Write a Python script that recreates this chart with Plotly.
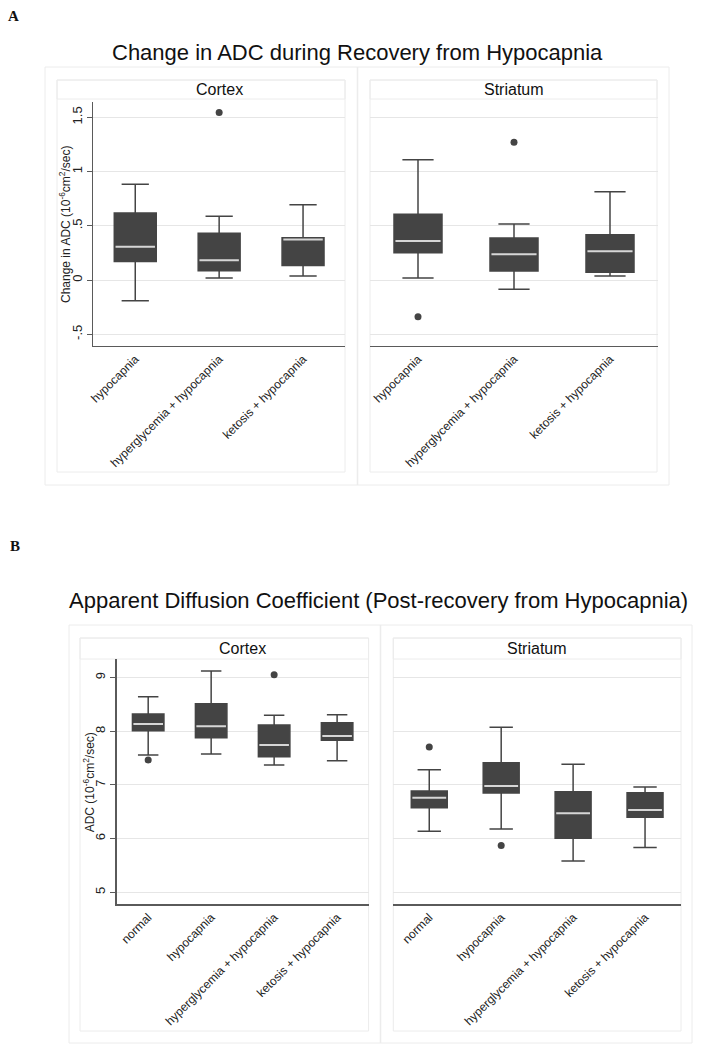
import plotly.graph_objects as go

W, H = 707, 1050

# ---------------- data ----------------
cats_a = ["hypocapnia", "hyperglycemia + hypocapnia", "ketosis + hypocapnia"]
cats_b = ["normal", "hypocapnia", "hyperglycemia + hypocapnia", "ketosis + hypocapnia"]

# Panel A - Cortex (change in ADC)
a_ctx_upper = [0.883, 0.588, 0.695]
a_ctx_q3 = [0.618, 0.431, 0.390]
a_ctx_median = [0.308, 0.182, 0.374]
a_ctx_q1 = [0.172, 0.086, 0.135]
a_ctx_lower = [-0.191, 0.018, 0.037]
a_ctx_out_cats = ["hyperglycemia + hypocapnia"]
a_ctx_out_vals = [1.545]

# Panel A - Striatum
a_str_upper = [1.108, 0.517, 0.815]
a_str_q3 = [0.606, 0.388, 0.418]
a_str_median = [0.360, 0.237, 0.265]
a_str_q1 = [0.252, 0.083, 0.071]
a_str_lower = [0.018, -0.086, 0.037]
a_str_out_cats = ["hypocapnia", "hyperglycemia + hypocapnia"]
a_str_out_vals = [-0.338, 1.271]

# Panel B - Cortex (ADC)
b_ctx_upper = [8.646, 9.124, 8.298, 8.311]
b_ctx_q3 = [8.323, 8.516, 8.118, 8.161]
b_ctx_median = [8.137, 8.093, 7.745, 7.913]
b_ctx_q1 = [8.012, 7.882, 7.528, 7.832]
b_ctx_lower = [7.559, 7.578, 7.373, 7.453]
b_ctx_out_cats = ["normal", "hyperglycemia + hypocapnia"]
b_ctx_out_vals = [7.466, 9.056]

# Panel B - Striatum
b_str_upper = [7.286, 8.075, 7.385, 6.963]
b_str_q3 = [6.888, 7.416, 6.876, 6.857]
b_str_median = [6.764, 6.981, 6.472, 6.534]
b_str_q1 = [6.578, 6.851, 6.006, 6.398]
b_str_lower = [6.137, 6.180, 5.584, 5.833]
b_str_out_cats = ["normal", "hypocapnia"]
b_str_out_vals = [7.708, 5.870]

a_tickvals = [-0.5, 0, 0.5, 1, 1.5]
a_ticktext = ["-.5", "0", ".5", "1", "1.5"]
b_tickvals = [5, 6, 7, 8, 9]
b_ticktext = ["5", "6", "7", "8", "9"]

title_a = "Change in ADC during Recovery from Hypocapnia"
title_b = "Apparent Diffusion Coefficient (Post-recovery from Hypocapnia)"
ytitle_a = "Change in ADC (10<sup>-6</sup>cm<sup>2</sup>/sec)"
ytitle_b = "ADC (10<sup>-6</sup>cm<sup>2</sup>/sec)"

# ---------------- style ----------------
FONT = "Liberation Sans, Arial, sans-serif"
DARK = "#444444"
LIGHT = "#d6d6d6"
GRID = "#e6e6e6"
AXIS = "#5a5a5a"
FRAME = "#ececec"


def px(x):
    return x / W


def py(y):
    return 1 - y / H


fig = go.Figure()


def add_panel(xa, ya, cats, q1, med, q3, lo, up, out_c, out_v):
    fig.add_trace(go.Box(
        x=cats, q1=q1, median=med, q3=q3, lowerfence=lo, upperfence=up,
        fillcolor=DARK, line=dict(color=DARK, width=1.5), width=0.5,
        whiskerwidth=0.65, boxpoints=False, xaxis=xa, yaxis=ya,
        showlegend=False, hoverinfo="skip"))
    # median line in light colour
    fig.add_trace(go.Box(
        x=cats, q1=med, median=med, q3=med, lowerfence=med, upperfence=med,
        fillcolor="rgba(0,0,0,0)", line=dict(color=LIGHT, width=2), width=0.47,
        whiskerwidth=0, boxpoints=False, xaxis=xa, yaxis=ya,
        showlegend=False, hoverinfo="skip"))
    fig.add_trace(go.Scatter(
        x=out_c, y=out_v, mode="markers",
        marker=dict(color=DARK, size=7), xaxis=xa, yaxis=ya,
        showlegend=False, hoverinfo="skip"))


add_panel("x", "y", cats_a, a_ctx_q1, a_ctx_median, a_ctx_q3, a_ctx_lower, a_ctx_upper,
          a_ctx_out_cats, a_ctx_out_vals)
add_panel("x2", "y2", cats_a, a_str_q1, a_str_median, a_str_q3, a_str_lower, a_str_upper,
          a_str_out_cats, a_str_out_vals)
add_panel("x3", "y3", cats_b, b_ctx_q1, b_ctx_median, b_ctx_q3, b_ctx_lower, b_ctx_upper,
          b_ctx_out_cats, b_ctx_out_vals)
add_panel("x4", "y4", cats_b, b_str_q1, b_str_median, b_str_q3, b_str_lower, b_str_upper,
          b_str_out_cats, b_str_out_vals)

xtickfont = dict(family=FONT, size=12, color="#222222")
ytickfont = dict(family=FONT, size=13, color="#222222")


def xaxis(dom, cats, anchor):
    return dict(domain=dom, anchor=anchor, type="category", categoryorder="array",
                categoryarray=cats, range=[-0.5, len(cats) - 0.5],
                showline=True, linecolor=AXIS, linewidth=1.3, ticks="",
                tickangle=-45, tickfont=xtickfont, showgrid=False, zeroline=False,
                fixedrange=True, automargin=False)


def yaxis(dom, rng, tv, tt, anchor, show):
    d = dict(domain=dom, anchor=anchor, range=rng, tickvals=tv, ticktext=tt,
             showgrid=True, gridcolor=GRID, gridwidth=1, zeroline=False,
             fixedrange=True, automargin=False)
    if show:
        d.update(showline=True, linecolor=AXIS, linewidth=1.3, ticks="outside",
                 ticklen=5, tickcolor=AXIS, tickangle=-90, tickfont=ytickfont,
                 showticklabels=True)
    else:
        d.update(showline=False, ticks="", showticklabels=False)
    return d


ya_dom = [py(346), py(101.7)]
yb_dom = [py(904.3), py(659.3)]
a_rng = [-0.608, 1.644]
b_rng = [4.776, 9.343]

fig.update_layout(
    width=W, height=H, margin=dict(l=0, r=0, t=0, b=0, pad=0, autoexpand=False),
    paper_bgcolor="white", plot_bgcolor="white", boxmode="overlay",
    showlegend=False,
    xaxis=xaxis([px(93.3), px(345)], cats_a, "y"),
    yaxis=yaxis(ya_dom, a_rng, a_tickvals, a_ticktext, "x", True),
    xaxis2=xaxis([px(370), px(658)], cats_a, "y2"),
    yaxis2=yaxis(ya_dom, a_rng, a_tickvals, a_ticktext, "x2", False),
    xaxis3=xaxis([px(116.7), px(368.6)], cats_b, "y3"),
    yaxis3=yaxis(yb_dom, b_rng, b_tickvals, b_ticktext, "x3", True),
    xaxis4=xaxis([px(393.3), px(681)], cats_b, "y4"),
    yaxis4=yaxis(yb_dom, b_rng, b_tickvals, b_ticktext, "x4", False),
)


# frames
def rect(x0, y0, x1, y1, color=FRAME):
    fig.add_shape(type="rect", xref="paper", yref="paper",
                  x0=px(x0), x1=px(x1), y0=py(y1), y1=py(y0),
                  line=dict(color=color, width=1), fillcolor="rgba(0,0,0,0)",
                  layer="below")


def vline(x, y0, y1):
    fig.add_shape(type="line", xref="paper", yref="paper",
                  x0=px(x), x1=px(x), y0=py(y1), y1=py(y0),
                  line=dict(color=FRAME, width=1.5), layer="below")


# panel A frames
rect(45, 67, 669, 485)
vline(357.5, 67, 485)
rect(57, 80, 345, 472)
rect(370, 80, 657, 472)
rect(57, 80, 345, 99)
rect(370, 80, 657, 99)
# panel B frames
rect(69, 625, 692, 1043)
vline(380.5, 625, 1043)
rect(80, 638, 368.6, 1031)
rect(393.3, 638, 681, 1031)
rect(80, 638, 368.6, 659)
rect(393.3, 638, 681, 659)


def ann(text, x, y, size, angle=0, family=FONT, color="#111111", bold=False):
    if bold:
        text = "<b>" + text + "</b>"
    fig.add_annotation(text=text, xref="paper", yref="paper", x=px(x), y=py(y),
                       xanchor="center", yanchor="middle", showarrow=False,
                       textangle=angle, font=dict(family=family, size=size, color=color))


ann("A", 13, 16, 15, family="Liberation Serif, DejaVu Serif, serif", bold=True)
ann("B", 15, 546, 15, family="Liberation Serif, DejaVu Serif, serif", bold=True)
ann(title_a, 357, 53, 22)
ann(title_b, 378, 600, 22)
ann("Cortex", 219, 89.5, 16)
ann("Striatum", 514, 89.5, 16)
ann("Cortex", 242.5, 648.3, 16)
ann("Striatum", 537, 648.3, 16)
ann(ytitle_a, 65, 224, 12, angle=-90, color="#222222")
ann(ytitle_b, 89.3, 782, 12, angle=-90, color="#222222")

fig.write_html(
    "out.html",
    config={"displayModeBar": False, "staticPlot": True},
    post_script="document.body.style.margin='0px';document.body.style.padding='0px';"
                "document.documentElement.style.overflow='hidden';",
)
